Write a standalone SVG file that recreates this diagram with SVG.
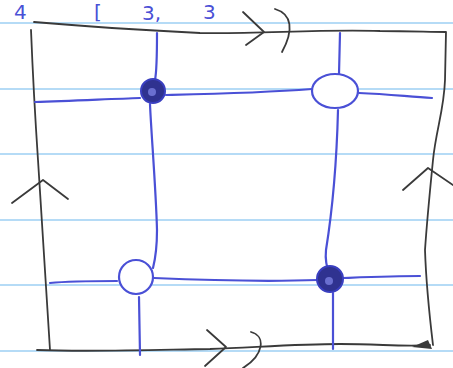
<svg xmlns="http://www.w3.org/2000/svg" width="453" height="368" viewBox="0 0 453 368">
<style>
.rule{stroke:#b5dbf6;stroke-width:2;fill:none}
.pen{stroke:#4a50d6;stroke-width:2.2;fill:none;stroke-linecap:round}
.pencil{stroke:#3a3a3a;stroke-width:1.8;fill:none;stroke-linecap:round;stroke-linejoin:round}
.hand{font-family:"DejaVu Sans",sans-serif;font-size:20px;fill:#4a50d6}
</style>
<rect width="453" height="368" fill="#ffffff"/>
<g id="paper">
<path class="rule" d="M0 23 H453"/>
<path class="rule" d="M0 89 H453"/>
<path class="rule" d="M0 154 H453"/>
<path class="rule" d="M0 220 H453"/>
<path class="rule" d="M0 285 H453"/>
<path class="rule" d="M0 351 H453"/>
</g>
<g id="title">
<text class="hand" x="14" y="19">4</text>
<text class="hand" x="94" y="19">[</text>
<text class="hand" x="142" y="20">3,</text>
<text class="hand" x="203" y="19">3</text>
</g>
<g id="frame">
<path class="pencil" d="M34 22 C80 26 140 30 200 33 C260 34 320 29 380 31 C410 31 430 32 446 32 L445 80 C444 110 436 130 433 160 C430 190 427 220 425 250 C426 280 430 320 433 345"/>
<path class="pencil" d="M31 30 C33 80 36 130 38 160 C42 220 46 280 50 350"/>
<path class="pencil" d="M37 350 C90 352 150 350 210 349 C260 347 300 344 340 344 C380 344 405 347 430 345"/>
<path d="M412 347 L428 340 L432 349 Z" fill="#3a3a3a"/>
<path class="pencil" d="M243 12 L264 32 L246 45"/>
<path class="pencil" d="M275 9 C292 14 294 30 282 52"/>
<path class="pencil" d="M207 330 L226 347 L205 366"/>
<path class="pencil" d="M251 332 C266 336 264 355 243 368"/>
<path class="pencil" d="M12 203 L43 180 L68 199"/>
<path class="pencil" d="M403 190 L428 168 L453 185"/>
</g>
<g id="connectors">
<path class="pen" d="M157 33 C157 60 156 75 155 80"/>
<path class="pen" d="M150 104 C151 130 156 190 157 230 C157 250 155 260 153 268"/>
<path class="pen" d="M139 297 L140 355"/>
<path class="pen" d="M340 33 L339 74"/>
<path class="pen" d="M338 110 C337 150 334 200 326 250 C325 260 327 268 328 267"/>
<path class="pen" d="M333 293 L333 349"/>
<path class="pen" d="M35 102 C70 101 110 99 140 98"/>
<path class="pen" d="M166 95 C210 94 260 93 312 89"/>
<path class="pen" d="M359 93 C390 94 410 97 432 98"/>
<path class="pen" d="M50 283 C70 281 95 281 117 281"/>
<path class="pen" d="M154 278 C200 280 260 282 318 280"/>
<path class="pen" d="M343 278 C370 277 395 276 420 276"/>
</g>
<g id="node-a">
<circle cx="153" cy="91" r="12" fill="#2f3290" stroke="#3a3fc0" stroke-width="2"/>
<circle cx="152" cy="92" r="4" fill="#6a6fd0"/>
</g>
<g id="node-b">
<ellipse cx="335" cy="91" rx="23" ry="17" fill="#ffffff" stroke="#4a50d6" stroke-width="2.2"/>
</g>
<g id="node-c">
<circle cx="136" cy="277" r="17" fill="#ffffff" stroke="#4a50d6" stroke-width="2.2"/>
</g>
<g id="node-d">
<circle cx="330" cy="279" r="13" fill="#2f3290" stroke="#3a3fc0" stroke-width="2"/>
<circle cx="329" cy="281" r="4" fill="#6a6fd0"/>
</g>
</svg>
